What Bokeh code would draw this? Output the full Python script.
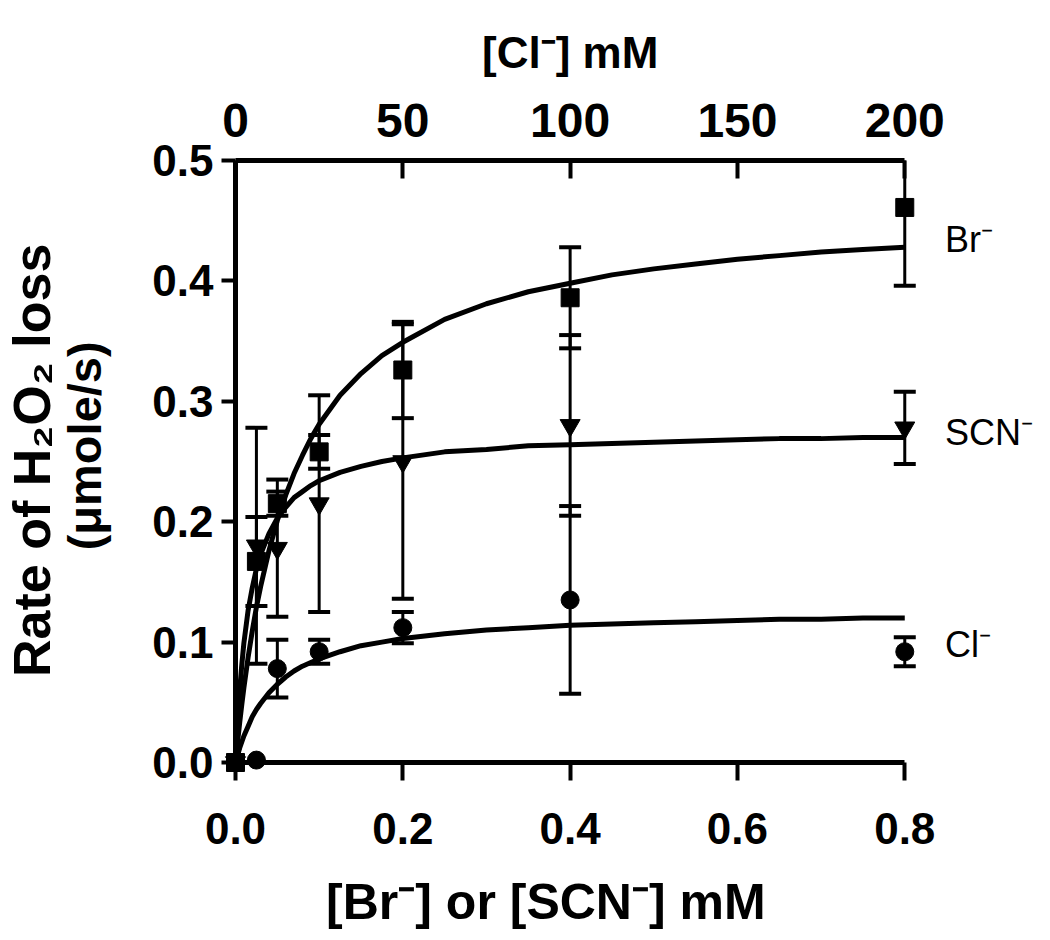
import math
from bokeh.plotting import figure
from bokeh.models import (ColumnDataSource, Range1d, LinearAxis, FixedTicker,
                          NumeralTickFormatter)
from bokeh.core.properties import value
from bokeh.embed import file_html
from bokeh.resources import INLINE

# ---------------- data ----------------
conc_mM = [0, 0.025, 0.05, 0.1, 0.2, 0.4, 0.8]          # [Br-] / [SCN-] mM
br_rate = [0, 0.167, 0.215, 0.258, 0.326, 0.386, 0.461]
br_err = [0, 0.037, 0.010, 0.014, 0.040, 0.042, 0.065]
scn_rate = [0, 0.180, 0.178, 0.215, 0.250, 0.280, 0.278]
scn_err = [0, 0.098, 0.057, 0.090, 0.114, 0.075, 0.030]

cl_mM = [0, 6.25, 12.5, 25, 50, 100, 200]                # [Cl-] mM (top axis)
cl_rate = [0, 0.002, 0.078, 0.092, 0.112, 0.135, 0.092]
cl_err = [0, 0, 0.024, 0.010, 0.013, 0.078, 0.012]

# fitted curves
fit_x = [0, 0.0025, 0.005, 0.0075, 0.01, 0.015, 0.02, 0.025, 0.03, 0.04,
         0.05, 0.06, 0.07, 0.08, 0.09, 0.1, 0.125, 0.15, 0.175, 0.2, 0.25,
         0.3, 0.35, 0.4, 0.45, 0.5, 0.55, 0.6, 0.65, 0.7, 0.75, 0.8]
br_fit = [0, 0.017, 0.033, 0.048, 0.062, 0.087, 0.109, 0.129, 0.146, 0.176,
          0.201, 0.222, 0.240, 0.255, 0.269, 0.281, 0.305, 0.323, 0.338,
          0.349, 0.368, 0.381, 0.391, 0.398, 0.405, 0.410, 0.414, 0.418,
          0.421, 0.424, 0.426, 0.428]
scn_fit = [0, 0.034, 0.060, 0.081, 0.099, 0.126, 0.145, 0.161, 0.173, 0.190,
           0.203, 0.212, 0.220, 0.225, 0.230, 0.234, 0.241, 0.246, 0.250,
           0.253, 0.258, 0.260, 0.263, 0.264, 0.265, 0.266, 0.267, 0.268,
           0.269, 0.269, 0.270, 0.270]
cl_fit_x = [0, 0.625, 1.25, 1.875, 2.5, 3.75, 5, 6.25, 7.5, 10, 12.5, 15,
            17.5, 20, 22.5, 25, 31.25, 37.5, 43.75, 50, 62.5, 75, 87.5, 100,
            112.5, 125, 137.5, 150, 162.5, 175, 187.5, 200]
cl_fit = [0, 0.006, 0.012, 0.017, 0.022, 0.030, 0.038, 0.044, 0.049, 0.058,
          0.065, 0.071, 0.076, 0.080, 0.083, 0.086, 0.092, 0.097, 0.100,
          0.103, 0.107, 0.110, 0.112, 0.114, 0.115, 0.116, 0.117, 0.118,
          0.119, 0.119, 0.120, 0.120]

bottom_ticks = [0, 0.2, 0.4, 0.6, 0.8]
top_ticks = [0, 50, 100, 150, 200]
left_ticks = [0, 0.1, 0.2, 0.3, 0.4, 0.5]

series_names = ["Br⁻", "SCN⁻", "Cl⁻"]
top_title = "[Cl⁻] mM"
bottom_title = "[Br⁻] or [SCN⁻] mM"
left_title = ["Rate of H₂O₂ loss", "(μmole/s)"]

FONT = "Liberation Sans"

p = figure(width=1042, height=932, output_backend="svg", toolbar_location=None,
           x_range=Range1d(0, 0.82), y_range=Range1d(0, 0.5),
           x_axis_type=None, y_axis_type=None,
           min_border_left=235, min_border_right=121,
           min_border_top=160, min_border_bottom=170)
p.extra_x_ranges = {"cl": Range1d(0, 205)}
p.xgrid.visible = False
p.ygrid.visible = False
p.outline_line_color = None
p.background_fill_color = "white"
p.border_fill_color = "white"


def style_axis(ax, size="44px"):
    ax.axis_line_width = 5
    ax.axis_line_color = "black"
    ax.major_tick_line_width = 4
    ax.major_tick_line_color = "black"
    ax.minor_tick_line_color = None
    ax.major_label_text_font = FONT
    ax.major_label_text_font_style = "bold"
    ax.major_label_text_font_size = size
    ax.major_label_text_color = "black"


bottom = LinearAxis(ticker=FixedTicker(ticks=bottom_ticks),
                    formatter=NumeralTickFormatter(format="0.0"),
                    bounds=(0, 0.8))
style_axis(bottom)
bottom.major_tick_out = 18
bottom.major_tick_in = 0
bottom.major_label_standoff = 32
p.add_layout(bottom, "below")

top = LinearAxis(x_range_name="cl", ticker=FixedTicker(ticks=top_ticks),
                 bounds=(0, 200))
style_axis(top, size="48px")
top.major_tick_out = 0
top.major_tick_in = 18
top.major_label_standoff = 24
p.add_layout(top, "above")

left = LinearAxis(ticker=FixedTicker(ticks=left_ticks),
                  formatter=NumeralTickFormatter(format="0.0"))
style_axis(left)
left.major_tick_out = 14
left.major_tick_in = 0
left.major_label_standoff = 8
p.add_layout(left, "left")


def put_text(txt, x, y, size, bold=True, angle=0.0, align="center"):
    p.text(x=[x], y=[y], text=[txt], angle=angle, text_font=value(FONT),
           text_font_style="bold" if bold else "normal",
           text_font_size=value(size), text_align=align,
           text_baseline="middle", text_color="black", level="overlay")


# axis titles
put_text(top_title, 0.40, 0.590, "44px")
put_text(bottom_title, 0.371, -0.116, "50px")
put_text(left_title[0], -0.243, 0.251, "52px", angle=math.pi / 2)
put_text(left_title[1], -0.180, 0.263, "47px", angle=math.pi / 2)


def errorbars(x, y, e, x_range_name="default"):
    xs = [a for a, s in zip(x, e) if s > 0]
    lo = [b - s for b, s in zip(y, e) if s > 0]
    hi = [b + s for b, s in zip(y, e) if s > 0]
    src = ColumnDataSource(dict(x=xs, lo=lo, hi=hi))
    p.segment(x0="x", y0="lo", x1="x", y1="hi", source=src, line_color="black",
              line_width=3, x_range_name=x_range_name)
    for col in ("lo", "hi"):
        p.scatter(x="x", y=col, source=src, marker="dash", size=22,
                  line_color="black", line_width=4, x_range_name=x_range_name)


# curves
p.line(fit_x, br_fit, line_color="black", line_width=5, line_join="round")
p.line(fit_x, scn_fit, line_color="black", line_width=5, line_join="round")
p.line(cl_fit_x, cl_fit, line_color="black", line_width=5, line_join="round",
       x_range_name="cl")

# error bars
errorbars(conc_mM, br_rate, br_err)
errorbars(conc_mM, scn_rate, scn_err)
errorbars(cl_mM, cl_rate, cl_err, x_range_name="cl")

# markers
p.scatter(conc_mM, br_rate, marker="square", size=18, fill_color="black",
          line_color="black", level="overlay")
p.scatter(conc_mM, scn_rate, marker="inverted_triangle", size=20,
          fill_color="black", line_color="black", level="overlay")
p.scatter(cl_mM, cl_rate, marker="circle", size=18, fill_color="black",
          line_color="black", level="overlay", x_range_name="cl")

# series labels at the right of the curves
for txt, yy in zip(series_names, (0.434, 0.274, 0.098)):
    put_text(txt, 0.848, yy, "36px", bold=False, align="left")

open("out.html", "w").write(file_html(p, INLINE))
